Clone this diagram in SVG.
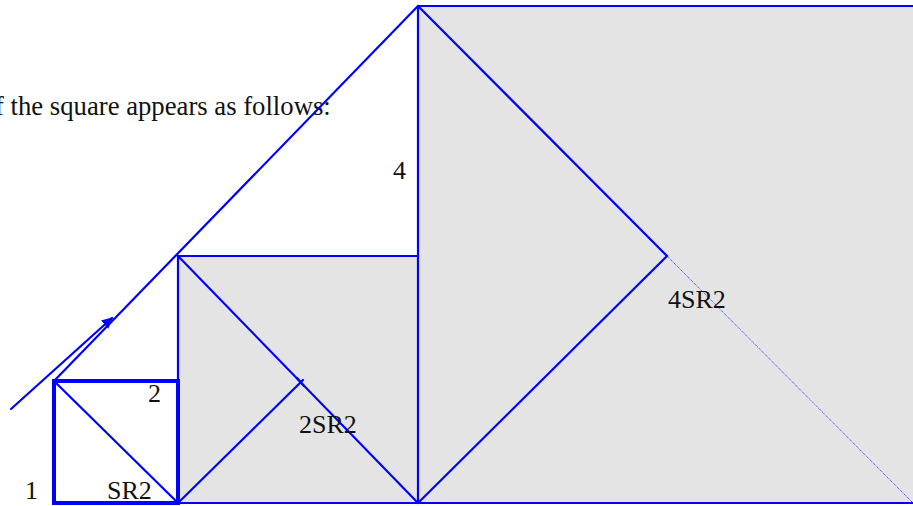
<svg xmlns="http://www.w3.org/2000/svg" width="913" height="506" viewBox="0 0 913 506">
<style>
.ln{stroke:#0000ff;stroke-width:2.2;fill:none;stroke-linecap:round}
.thick{stroke:#0000ff;stroke-width:4;fill:#ffffff}
.sh{fill:#e4e4e4;stroke:none}
text{font-family:"Liberation Serif","Times New Roman",serif;font-size:26px;fill:#111}
</style>
<defs>
<marker id="ah" viewBox="0 0 10 10" refX="9" refY="5" markerWidth="5" markerHeight="5" orient="auto" markerUnits="strokeWidth">
<path d="M0,0 L10,5 L0,10 z" fill="#0000ff"/>
</marker>
</defs>
<rect width="913" height="506" fill="#ffffff"/>
<text x="-5" y="115" style="font-size:26.7px">f the square appears as follows:</text>
<g id="shading">
<rect class="sh" x="178" y="256" width="240" height="247"/>
<rect class="sh" x="418" y="6" width="495" height="497"/>
</g>
<g id="big-square">
<line class="ln" x1="418" y1="6" x2="913" y2="6"/>
<line class="ln" x1="418" y1="6" x2="418" y2="503"/>
<polyline class="ln" points="418,6 667,256 418,503"/>
<line x1="667" y1="256" x2="913" y2="503" stroke="#0000ff" stroke-width="0.8" stroke-dasharray="1,1"/>
<text x="393" y="179">4</text>
<text x="668" y="308">4SR2</text>
</g>
<g id="medium-square">
<line class="ln" x1="178" y1="256" x2="418" y2="256"/>
<line class="ln" x1="178" y1="256" x2="178" y2="503"/>
<line class="ln" x1="178" y1="256" x2="418" y2="503"/>
<line class="ln" x1="178" y1="503" x2="303" y2="380"/>
<line class="ln" x1="297" y1="378" x2="304" y2="386"/>
<text x="299" y="433">2SR2</text>
</g>
<g id="small-square">
<rect class="thick" x="54" y="381" width="124" height="122"/>
<line class="ln" x1="54" y1="381" x2="178" y2="503"/>
<text x="148" y="402">2</text>
<text x="25" y="499">1</text>
<text x="107" y="499">SR2</text>
</g>
<g id="connectors">
<line class="ln" x1="54" y1="381" x2="418" y2="6"/>
<line class="ln" x1="54" y1="503" x2="913" y2="503"/>
<line class="ln" x1="11" y1="409" x2="112" y2="318" marker-end="url(#ah)"/>
</g>
</svg>
